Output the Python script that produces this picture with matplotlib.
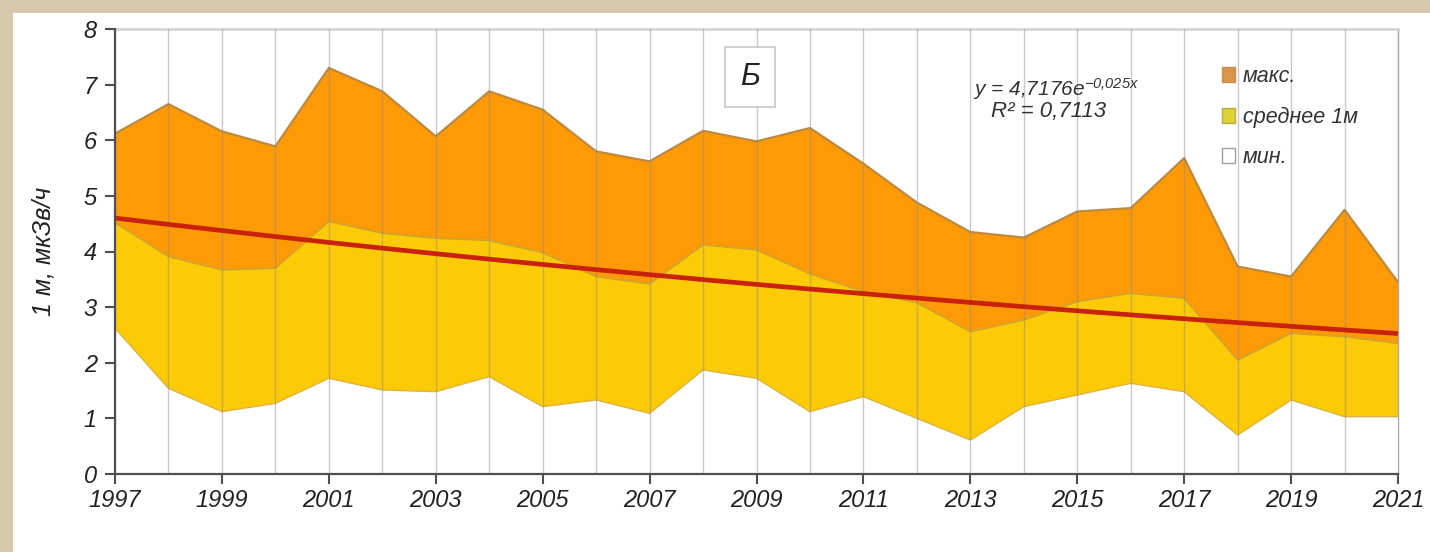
import numpy as np
import matplotlib
matplotlib.use('Agg')
import matplotlib.pyplot as plt
from matplotlib.patches import Rectangle, Patch

plt.rcParams['font.family'] = ['Liberation Sans', 'DejaVu Sans']
plt.rcParams['font.style'] = 'italic'
plt.rcParams['mathtext.fontset'] = 'custom'
plt.rcParams['mathtext.rm'] = 'Liberation Sans:italic'
plt.rcParams['mathtext.it'] = 'Liberation Sans:italic'

# dose rate at 1 m, мкЗв/ч
years = np.arange(1997, 2022)
max_vals = [6.12, 6.65, 6.16, 5.89, 7.30, 6.88, 6.07, 6.88, 6.55, 5.80, 5.62, 6.17, 5.98,
            6.22, 5.58, 4.88, 4.35, 4.25, 4.72, 4.78, 5.68, 3.73, 3.55, 4.75, 3.45]
mean_vals = [4.52, 3.91, 3.67, 3.70, 4.54, 4.33, 4.24, 4.20, 3.98, 3.55, 3.42, 4.12, 4.03,
             3.60, 3.28, 3.08, 2.56, 2.77, 3.10, 3.25, 3.16, 2.05, 2.53, 2.47, 2.35]
min_vals = [2.62, 1.54, 1.12, 1.27, 1.72, 1.51, 1.48, 1.75, 1.21, 1.33, 1.09, 1.87, 1.72,
            1.12, 1.39, 1.00, 0.61, 1.21, 1.42, 1.63, 1.48, 0.70, 1.33, 1.03, 1.03]
series_labels = ['макс.', 'среднее 1м', 'мин.']

# exponential trend of the mean, x = 1..25
trend_a = 4.7176
trend_b = -0.025
r2 = 0.7113

fig = plt.figure(figsize=(14.3, 5.52), dpi=100, facecolor='#d6c9ad')
# white card on top of the beige frame
fig.patches.append(Rectangle((13 / 1430, 0), 1, 1 - 13 / 552, transform=fig.transFigure,
                             facecolor='white', edgecolor='none', zorder=-10))

ax = fig.add_axes([115 / 1430, 1 - 474 / 552, 1283 / 1430, 445 / 552])
ax.set_zorder(1)
ax.set_facecolor('white')

orange = '#fe9a05'
yellow = '#fdcb05'
ax.fill_between(years, 0, max_vals, facecolor=orange, linewidth=0, zorder=1)
ax.plot(years, max_vals, color='#bf8a3c', linewidth=1.6, zorder=1.5)
ax.fill_between(years, 0, mean_vals, facecolor=yellow, linewidth=0, zorder=2)
ax.plot(years, mean_vals, color='#d4a42a', linewidth=1.3, zorder=2.5)
ax.fill_between(years, 0, min_vals, facecolor='white', linewidth=0, zorder=3)
ax.plot(years, min_vals, color='#dcb444', linewidth=1.0, zorder=3.5)

# year gridlines drawn over the areas
for yr in years:
    ax.axvline(yr, color='#8a8a8a', alpha=0.45, linewidth=1.0, zorder=4)

x_idx = np.arange(1, len(years) + 1)
trend = trend_a * np.exp(trend_b * x_idx)
ax.plot(years, trend, color='#c9220a', linewidth=3.4, zorder=5, solid_capstyle='butt')

ax.set_xlim(1997, 2021)
ax.set_ylim(0, 8)
ax.set_xticks(np.arange(1997, 2022, 2))
ax.set_yticks(np.arange(0, 9, 1))
ax.tick_params(axis='x', direction='out', length=7, width=1.5, color='#505050',
               labelsize=17, pad=4, labelcolor='#222222')
ax.tick_params(axis='y', direction='out', length=7, width=1.5, color='#505050',
               labelsize=17, pad=6, labelcolor='#222222')

for side in ['left', 'bottom']:
    ax.spines[side].set_color('#505050')
    ax.spines[side].set_linewidth(1.6)
    ax.spines[side].set_zorder(6)
ax.spines['top'].set_color('#d6d6d6')
ax.spines['top'].set_linewidth(2)
ax.spines['right'].set_color('#a8a8a8')
ax.spines['right'].set_linewidth(1)

ax.set_ylabel('1 м, мкЗв/ч', fontsize=18, color='#222222')
ax.yaxis.set_label_coords(-0.046, 0.5)

ax.text(0.495, 0.892, 'Б', transform=ax.transAxes, fontsize=22, ha='center', va='center',
        color='#222222', zorder=7,
        bbox=dict(boxstyle='square,pad=0.5', facecolor='white', edgecolor='#c8c8c8', linewidth=1.2))

eq_text = 'y = %se$^{%sx}$' % (str(trend_a).replace('.', ','),
                               str(trend_b).replace('.', '{,}'))
ax.text((1056 - 115) / 1283, (474 - 89) / 445, eq_text, transform=ax.transAxes,
        fontsize=15, ha='center', va='center', color='#333333', zorder=7)
ax.text((1049 - 115) / 1283, (474 - 111) / 445, 'R² = ' + str(r2).replace('.', ','),
        transform=ax.transAxes, fontsize=16, ha='center', va='center', color='#333333', zorder=7)

handles = [Patch(facecolor='#d9964a', edgecolor='#c89050'),
           Patch(facecolor='#dcd23a', edgecolor='#b8b040'),
           Patch(facecolor='white', edgecolor='#a0a0a0')]
ax.legend(handles, series_labels, loc='upper left',
          bbox_to_anchor=((1203 - 115) / 1283, (474 - 47) / 445),
          frameon=False, fontsize=15.5, handlelength=0.6, handleheight=0.7,
          handletextpad=0.35, labelspacing=0.9, labelcolor='#333333')

fig.savefig('out.png', dpi=100, facecolor=fig.get_facecolor())
